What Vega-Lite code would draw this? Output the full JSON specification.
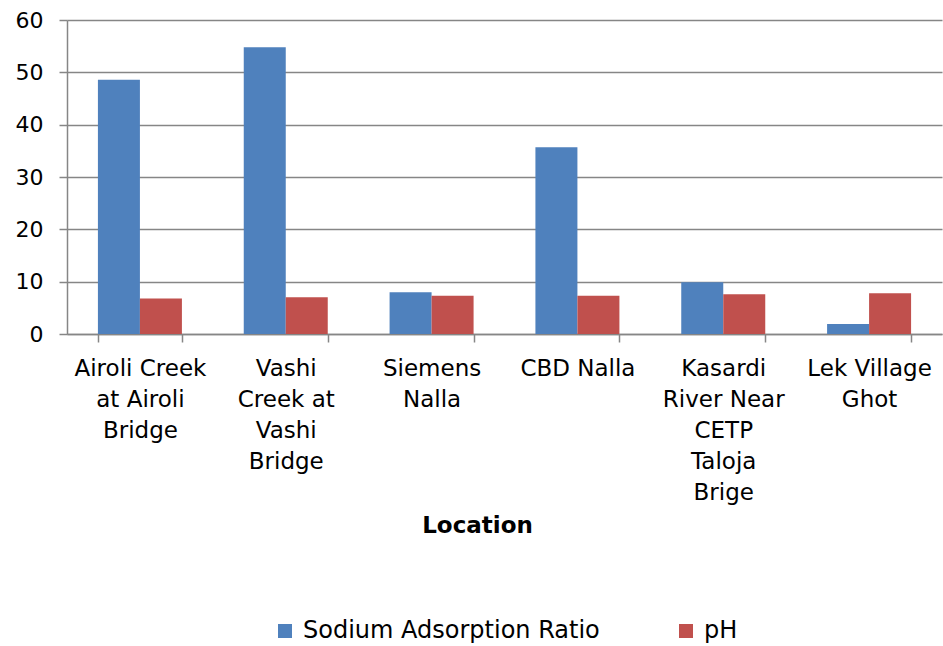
{
  "$schema": "https://vega.github.io/schema/vega-lite/v6.json",
  "width": 875,
  "height": 314,
  "autosize": {"type": "none"},
  "padding": {"left": 67, "top": 20, "right": 1, "bottom": 312},
  "background": "white",
  "data": {
    "values": [
      {"loc": "Airoli Creek at Airoli Bridge", "series": "Sodium Adsorption Ratio", "value": 48.6},
      {"loc": "Airoli Creek at Airoli Bridge", "series": "pH", "value": 6.8},
      {"loc": "Vashi Creek at Vashi Bridge", "series": "Sodium Adsorption Ratio", "value": 54.8},
      {"loc": "Vashi Creek at Vashi Bridge", "series": "pH", "value": 7.0},
      {"loc": "Siemens Nalla", "series": "Sodium Adsorption Ratio", "value": 8.0},
      {"loc": "Siemens Nalla", "series": "pH", "value": 7.3},
      {"loc": "CBD Nalla", "series": "Sodium Adsorption Ratio", "value": 35.7},
      {"loc": "CBD Nalla", "series": "pH", "value": 7.3},
      {"loc": "Kasardi River Near CETP Taloja Brige", "series": "Sodium Adsorption Ratio", "value": 9.9},
      {"loc": "Kasardi River Near CETP Taloja Brige", "series": "pH", "value": 7.6},
      {"loc": "Lek Village Ghot", "series": "Sodium Adsorption Ratio", "value": 1.9},
      {"loc": "Lek Village Ghot", "series": "pH", "value": 7.8}
    ]
  },
  "mark": {"type": "bar"},
  "encoding": {
    "x": {
      "field": "loc",
      "type": "nominal",
      "sort": null,
      "scale": {"paddingInner": 0.424, "paddingOuter": 0.212},
      "axis": {
        "title": "Location",
        "titleFont": "DejaVu Sans",
        "titleFontSize": 23,
        "titleFontWeight": "bold",
        "titleColor": "black",
        "titleX": 410,
        "titleY": 191,
        "titleBaseline": "middle",
        "labelAngle": 0,
        "labelFont": "DejaVu Sans",
        "labelFontSize": 23,
        "labelColor": "black",
        "labelLineHeight": 31,
        "labelPadding": 15,
        "labelLimit": 0,
        "labelExpr": "datum.label == 'Airoli Creek at Airoli Bridge' ? ['Airoli Creek', 'at Airoli', 'Bridge'] : datum.label == 'Vashi Creek at Vashi Bridge' ? ['Vashi', 'Creek at', 'Vashi', 'Bridge'] : datum.label == 'Siemens Nalla' ? ['Siemens', 'Nalla'] : datum.label == 'Kasardi River Near CETP Taloja Brige' ? ['Kasardi', 'River Near', 'CETP', 'Taloja', 'Brige'] : datum.label == 'Lek Village Ghot' ? ['Lek Village', 'Ghot'] : datum.label",
        "tickBand": "extent",
        "tickSize": 8,
        "tickColor": "#868686",
        "tickWidth": 1.5,
        "domainColor": "#868686",
        "domainWidth": 1.5,
        "grid": false
      }
    },
    "xOffset": {
      "field": "series",
      "type": "nominal",
      "sort": ["Sodium Adsorption Ratio", "pH"]
    },
    "y": {
      "field": "value",
      "type": "quantitative",
      "scale": {"domain": [0, 60], "nice": false},
      "axis": {
        "title": null,
        "values": [0, 10, 20, 30, 40, 50, 60],
        "labelFont": "DejaVu Sans",
        "labelFontSize": 22,
        "labelColor": "black",
        "labelPadding": 16,
        "tickSize": 8,
        "tickColor": "#868686",
        "tickWidth": 1.5,
        "domainColor": "#868686",
        "domainWidth": 1.5,
        "grid": true,
        "gridColor": "#868686",
        "gridWidth": 1.5
      }
    },
    "color": {
      "field": "series",
      "type": "nominal",
      "scale": {"domain": ["Sodium Adsorption Ratio", "pH"], "range": ["#4F81BD", "#C0504D"]},
      "legend": {
        "title": null,
        "orient": "none",
        "legendX": 206,
        "legendY": 599,
        "direction": "horizontal",
        "symbolType": "square",
        "symbolSize": 196,
        "symbolStrokeWidth": 0,
        "labelFont": "DejaVu Sans",
        "labelFontSize": 24,
        "labelColor": "black",
        "labelLimit": 0,
        "columnPadding": 74,
        "labelOffset": 6
      }
    }
  },
  "config": {
    "view": {"stroke": null},
    "axis": {"labelFont": "DejaVu Sans"}
  }
}
